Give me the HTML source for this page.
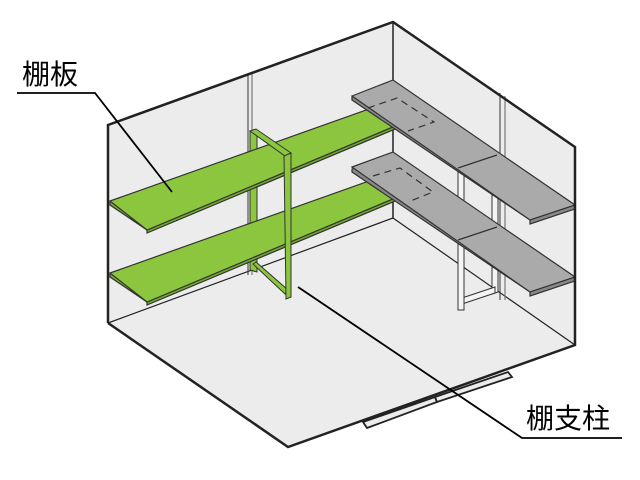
<!DOCTYPE html>
<html><head><meta charset="utf-8"><style>
html,body{margin:0;padding:0;background:#fff;}
svg{display:block;}
text{font-family:"Liberation Sans","Noto Sans CJK JP",sans-serif;}
</style></head><body>
<svg width="640" height="480" viewBox="0 0 640 480" xmlns="http://www.w3.org/2000/svg">
<polygon points="108,125 393,22 575,147 575,345 288,447 108,323" fill="#ececec"/>
<line x1="393" y1="22" x2="393" y2="218" stroke="#222" stroke-width="1.5"/>
<line x1="108" y1="323" x2="393" y2="218" stroke="#222" stroke-width="1.2"/>
<line x1="393" y1="218" x2="575" y2="345" stroke="#222" stroke-width="1.2"/>
<line x1="248" y1="74" x2="248" y2="275" stroke="#333" stroke-width="1"/>
<line x1="252" y1="73" x2="252" y2="275" stroke="#777" stroke-width="1.2"/>
<line x1="500" y1="93" x2="500" y2="300" stroke="#333" stroke-width="1"/>
<line x1="505" y1="96" x2="505" y2="300" stroke="#777" stroke-width="1.2"/>
<g fill="#f4f4f4" stroke="#333" stroke-width="1">
<polygon points="492,156 498,157 498,292 492,294"/>
<polygon points="462,298 495,287 495,293 462,304"/>
<polygon points="458,170 464,170 464,310 458,310"/>
</g>
<g fill="#8cc63f" stroke="#333" stroke-width="1">
<polygon points="250,131 257,133 257,272 250,270"/>
</g>
<g stroke="#333" stroke-width="1.2">
<polygon points="110,274 400,171 400,199 147,305 147,302 110,277" fill="#6fa82c"/>
<polygon points="110,273 400,170 400,196 147,302" fill="#8cc63f"/>
<polygon points="110,202 400,99 400,127 147,233 147,230 110,205" fill="#6fa82c"/>
<polygon points="110,201 400,98 400,124 147,230" fill="#8cc63f"/>
</g>
<g stroke="#333" stroke-width="1.2">
<polygon points="352,169 393,153 575,277 575,281 530,296 530,292 352,172" fill="#888"/>
<polygon points="352,167 393,152 575,277 530,292" fill="#aaa"/>
<polygon points="352,97 393,81 575,205 575,209 530,224 530,220 352,100" fill="#888"/>
<polygon points="352,96 393,80 575,205 530,220" fill="#aaa"/>
<line x1="458" y1="168" x2="497" y2="155"/>
<line x1="458" y1="240" x2="497" y2="227"/>
</g>
<g stroke="#333" stroke-width="1.2" fill="none" stroke-dasharray="7,5">
<polyline points="368,108 397,98 434,122 408,131"/>
<polyline points="373,176 400,168 433,192 408,202"/>
</g>
<g fill="#8cc63f" stroke="#333" stroke-width="1">
<polygon points="250,131 256,129 291,153 285,156"/>
<polygon points="253,264 256,262 288,290 285,294"/>
<polygon points="284,156 291,153 291,297 286,299"/>
</g>
<g fill="none" stroke="#222" stroke-width="2.5">
<polyline points="108,323 108,125 393,22 575,147 575,345 288,447 108,323"/>
</g>
<g fill="#ececec" stroke="#222" stroke-width="1.8">
<polygon points="363,422 435,397 437,402 367,428"/>
<polygon points="435,397 508,372 512,377 437,402"/>
</g>
<text x="22" y="84" font-size="28" fill="#000">棚板</text>
<polyline points="17,93 95,93 172,192" fill="none" stroke="#000" stroke-width="1.8"/>
<text x="526" y="428" font-size="28" fill="#000">棚支柱</text>
<polyline points="298,287 522,438 622,438" fill="none" stroke="#000" stroke-width="1.8"/>
</svg>
</body></html>
